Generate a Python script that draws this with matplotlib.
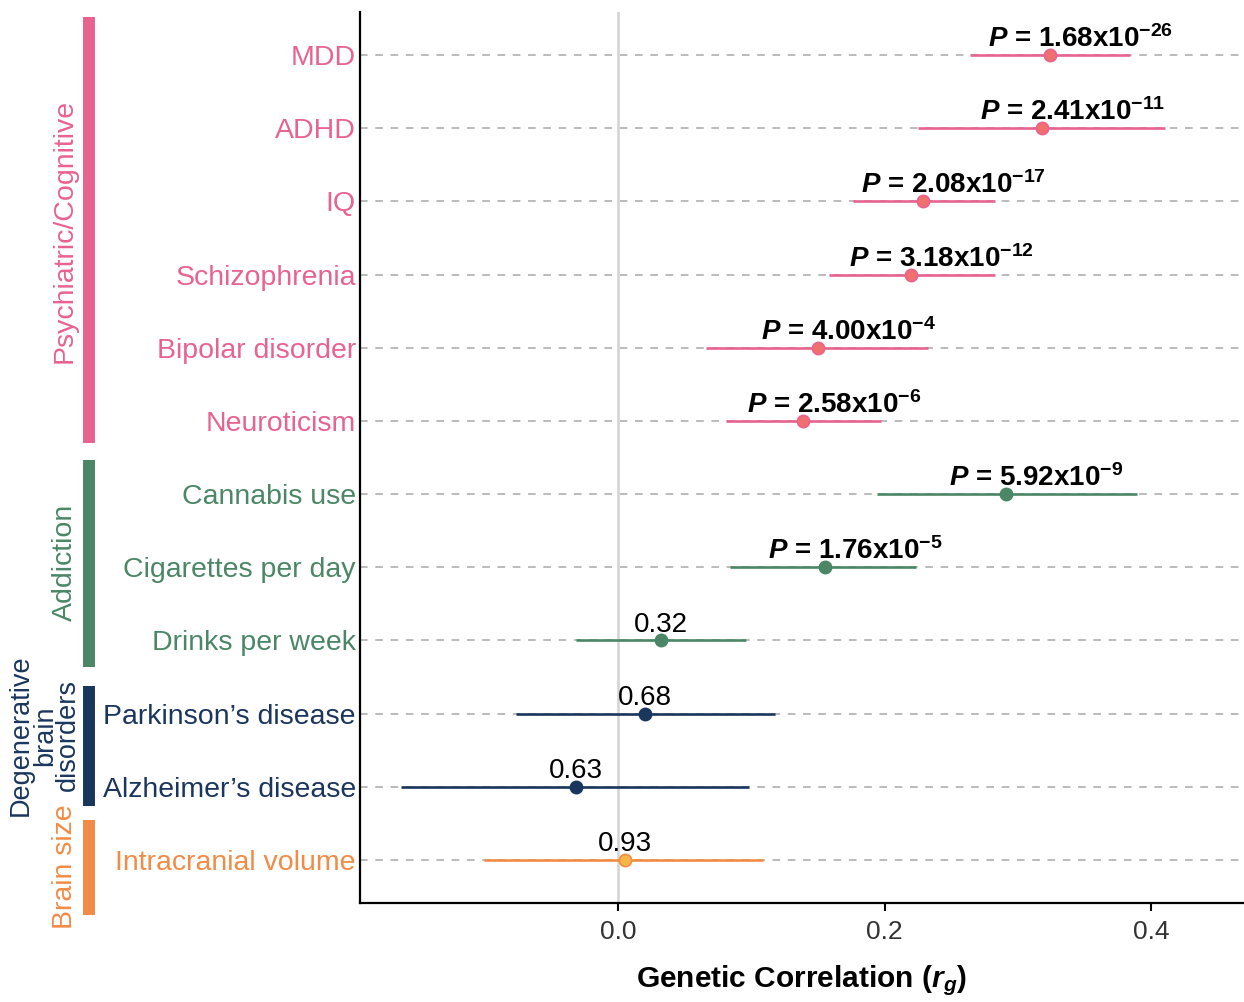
import matplotlib
matplotlib.use("Agg")
import matplotlib.pyplot as plt
import matplotlib.transforms as mtransforms

plt.rcParams['font.family'] = ['Liberation Sans', 'DejaVu Sans']
plt.rcParams['mathtext.fontset'] = 'custom'
plt.rcParams['mathtext.rm'] = 'Liberation Sans:bold'
plt.rcParams['mathtext.it'] = 'Liberation Sans:italic:bold'
plt.rcParams['mathtext.bf'] = 'Liberation Sans:bold'

traits = ["MDD", "ADHD", "IQ", "Schizophrenia", "Bipolar disorder", "Neuroticism",
          "Cannabis use", "Cigarettes per day", "Drinks per week",
          "Parkinson\u2019s disease", "Alzheimer\u2019s disease", "Intracranial volume"]
groups = ["psych"] * 6 + ["addict"] * 3 + ["degen"] * 2 + ["brain"]
rg = [0.324, 0.318, 0.229, 0.220, 0.150, 0.139, 0.291, 0.155, 0.032, 0.020, -0.032, 0.005]
ci_low = [0.264, 0.225, 0.176, 0.158, 0.066, 0.081, 0.194, 0.084, -0.032, -0.077, -0.163, -0.101]
ci_high = [0.384, 0.411, 0.283, 0.283, 0.233, 0.197, 0.390, 0.224, 0.096, 0.118, 0.098, 0.109]
p_mant = ["1.68", "2.41", "2.08", "3.18", "4.00", "2.58", "5.92", "1.76", None, None, None, None]
p_exp = ["-26", "-11", "-17", "-12", "-4", "-6", "-9", "-5", None, None, None, None]
p_plain = [None] * 8 + ["0.32", "0.68", "0.63", "0.93"]

group_names = ["psych", "addict", "degen", "brain"]
group_labels = [["Psychiatric/Cognitive"], ["Addiction"], ["Degenerative", "brain", "disorders"], ["Brain size"]]
group_colors = {"psych": "#E8638F", "addict": "#4B8766", "degen": "#1B365D", "brain": "#F28B45"}
point_fill = {"psych": "#F07070", "addict": "#4B8766", "degen": "#1B365D", "brain": "#F6B547"}

fig = plt.figure(figsize=(12.44, 10.02), dpi=100)
ax = fig.add_axes([360 / 1244, 99 / 1002, 884 / 1244, 891 / 1002])

n = len(traits)
ys = list(range(n))

for y in ys:
    ax.axhline(y, color="#A8A8A8", lw=1.1, ls=(0, (5, 5)), zorder=1)
ax.axvline(0, color="#D3D3D3", lw=1.8, zorder=1)

for i in range(n):
    c = group_colors[groups[i]]
    ax.plot([ci_low[i], ci_high[i]], [i, i], color=c, lw=1.9, zorder=3, solid_capstyle='butt')
    ax.plot(rg[i], i, 'o', ms=8.8, mfc=point_fill[groups[i]], mec=c, mew=1.2, zorder=4)
    if p_mant[i] is not None:
        e = p_exp[i].replace("-", "\u2212")
        txt = r"$\mathit{P}$ = " + p_mant[i] + "x10" + r"$^{\mathrm{" + e + "}}$"
        ax.annotate(txt, (rg[i], i), xytext=(22, 1.5), textcoords="offset points",
                    ha="center", va="bottom", fontsize=20, fontweight="bold", color="black", zorder=5)
    else:
        ax.annotate(p_plain[i], (rg[i], i), xytext=(0, 2), textcoords="offset points",
                    ha="center", va="bottom", fontsize=20, color="black", zorder=5)

ax.set_xlim(-0.194, 0.47)
ax.set_ylim(n - 1 + 0.59, -0.59)
ax.set_xticks([0.0, 0.2, 0.4])
ax.set_xticklabels(["0.0", "0.2", "0.4"], fontsize=19, color="#333333")
ax.set_yticks(ys)
ax.set_yticklabels(traits, fontsize=20.5)
for lab, g in zip(ax.get_yticklabels(), groups):
    lab.set_color(group_colors[g])
ax.tick_params(axis="y", length=0, pad=3)
ax.tick_params(axis="x", length=6, width=1.5, pad=6, direction="out")
for s in ["top", "right"]:
    ax.spines[s].set_visible(False)
for s in ["left", "bottom"]:
    ax.spines[s].set_linewidth(1.6)
    ax.spines[s].set_color("black")

ax.set_xlabel(r"Genetic Correlation ($\mathit{r}_{\mathit{g}}$)", fontsize=21.5, fontweight="bold", labelpad=14)

# group bars and labels
trans = mtransforms.blended_transform_factory(ax.transAxes, ax.transData)
bar_x = (89 - 360) / 884
spans = {"psych": (-0.52, 5.30), "addict": (5.53, 8.36), "degen": (8.62, 10.27), "brain": (10.45, 11.75)}
label_xpx = {"psych": [65], "addict": [65], "degen": [21, 45, 68], "brain": [65]}
label_size = {"psych": 20.5, "addict": 20.5, "degen": 19.5, "brain": 20.5}
label_y = {"psych": 2.4, "addict": 6.94, "degen": 9.3, "brain": 11.1}
for g, lines in zip(group_names, group_labels):
    y0, y1 = spans[g]
    ax.plot([bar_x, bar_x], [y0, y1], transform=trans, color=group_colors[g], lw=8.6,
            solid_capstyle="butt", clip_on=False)
    for xp, line in zip(label_xpx[g], lines):
        ax.text((xp - 360) / 884, label_y[g], line, transform=trans, rotation=90,
                ha="center", va="center", fontsize=label_size[g], color=group_colors[g])

fig.savefig("out.png", dpi=100)
